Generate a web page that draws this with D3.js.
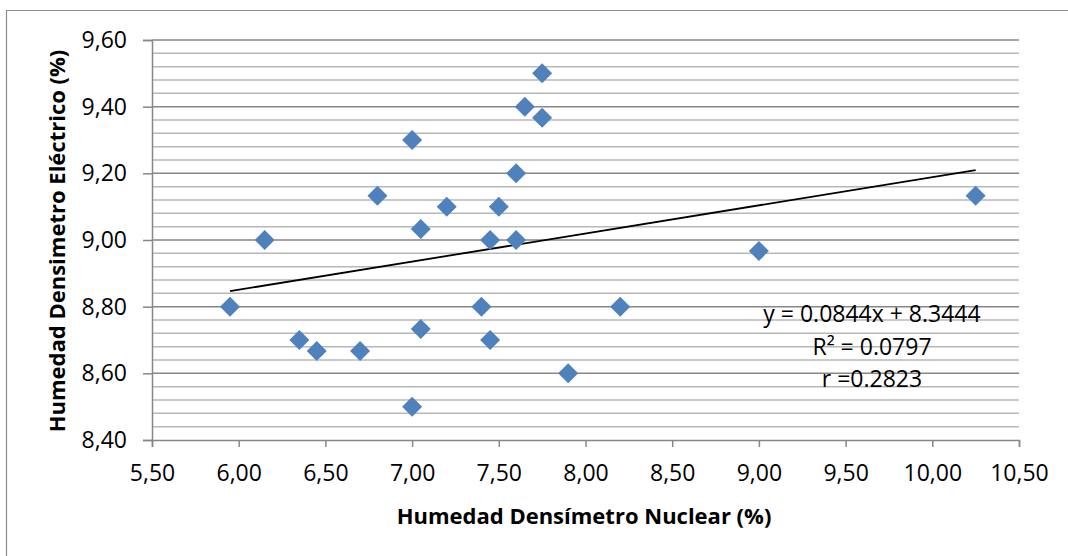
<!DOCTYPE html>
<html>
<head>
<meta charset="utf-8">
<script src="https://cdn.jsdelivr.net/npm/d3@7"></script>
<style>
  html, body { margin: 0; padding: 0; background: #fff; }
  svg { display: block; }
  text { font-family: "Open Sans", "DejaVu Sans", sans-serif; fill: #000; }
</style>
</head>
<body>
<svg id="chart" width="1068" height="556"></svg>
<script>
// ---- data ----
const nuclear = [5.95, 6.15, 6.35, 6.45, 6.70, 6.80, 7.00, 7.00, 7.05, 7.05, 7.20, 7.40,
                 7.45, 7.45, 7.50, 7.60, 7.60, 7.65, 7.75, 7.75, 7.90, 8.20, 9.00, 10.25];
const electrico = [8.80, 9.00, 8.70, 8.667, 8.667, 9.133, 9.30, 8.50, 9.033, 8.733, 9.10, 8.80,
                   9.00, 8.70, 9.10, 9.20, 9.00, 9.40, 9.50, 9.367, 8.60, 8.80, 8.967, 9.133];
const xTicks = [5.5, 6.0, 6.5, 7.0, 7.5, 8.0, 8.5, 9.0, 9.5, 10.0, 10.5];
const yTicks = [8.4, 8.6, 8.8, 9.0, 9.2, 9.4, 9.6];
const yMinorTicks = d3.range(0, 31).map(i => 8.4 + i * 0.04);
const trendSlope = 0.0844;
const trendIntercept = 8.3444;
const equationLines = ["y = 0.0844x + 8.3444", "R² = 0.0797", "r =0.2823"];
const xTitle = "Humedad Densímetro Nuclear (%)";
const yTitle = "Humedad Densimetro Eléctrico (%)";

// ---- layout ----
const svg = d3.select("#chart");
const plot = { left: 152, right: 1019, top: 40, bottom: 440 };
const x = d3.scaleLinear().domain([5.5, 10.5]).range([plot.left, plot.right]);
const y = d3.scaleLinear().domain([8.4, 9.6]).range([plot.bottom, plot.top]);
const fmt = v => d3.format(".2f")(v).replace(".", ",");

// outer chart border (only top & left are visible in the crop)
svg.append("path")
  .attr("d", `M6.5,600 V10.5 H1100`)
  .attr("fill", "none").attr("stroke", "#8c8c8c").attr("stroke-width", 1.2);

// minor gridlines
svg.append("g").selectAll("line")
  .data(yMinorTicks.filter(v => Math.abs(Math.round(v / 0.2) * 0.2 - v) > 1e-6))
  .join("line")
  .attr("x1", plot.left).attr("x2", plot.right)
  .attr("y1", d => y(d)).attr("y2", d => y(d))
  .attr("stroke", "#b8b8b8").attr("stroke-width", 1.5);

// major gridlines
svg.append("g").selectAll("line")
  .data(yTicks.slice(1))
  .join("line")
  .attr("x1", plot.left).attr("x2", plot.right)
  .attr("y1", d => y(d)).attr("y2", d => y(d))
  .attr("stroke", "#878787").attr("stroke-width", 1.5);

// y axis
const yAxis = d3.axisLeft(y).tickValues(yTicks).tickFormat(fmt).tickSize(9).tickPadding(16);
const gy = svg.append("g").attr("transform", `translate(${plot.left},0)`).call(yAxis);
gy.select(".domain").attr("stroke", "#878787").attr("stroke-width", 1.5);
gy.selectAll(".tick line").attr("stroke", "#878787").attr("stroke-width", 1.5);
gy.selectAll(".tick text").attr("font-size", 23).attr("font-family", "Open Sans").attr("fill", "#000");

// x axis
const xAxis = d3.axisBottom(x).tickValues(xTicks).tickFormat(fmt).tickSize(7).tickPadding(18);
const gx = svg.append("g").attr("transform", `translate(0,${plot.bottom})`).call(xAxis);
gx.select(".domain").attr("stroke", "#878787").attr("stroke-width", 1.5);
gx.selectAll(".tick line").attr("stroke", "#878787").attr("stroke-width", 1.5);
gx.selectAll(".tick text").attr("font-size", 23).attr("font-family", "Open Sans").attr("fill", "#000");

// trend line
const tx = d3.extent(nuclear);
svg.append("line")
  .attr("x1", x(tx[0])).attr("y1", y(trendSlope * tx[0] + trendIntercept))
  .attr("x2", x(tx[1])).attr("y2", y(trendSlope * tx[1] + trendIntercept))
  .attr("stroke", "#000").attr("stroke-width", 1.8);

// points
const pts = nuclear.map((v, i) => ({ x: v, y: electrico[i] }));
svg.append("g").selectAll("path")
  .data(pts)
  .join("path")
  .attr("d", d3.symbol(d3.symbolSquare, 200))
  .attr("transform", d => `translate(${x(d.x)},${y(d.y)}) rotate(45)`)
  .attr("fill", "#4f81bd");

// equation text
svg.append("g").selectAll("text")
  .data(equationLines)
  .join("text")
  .attr("x", 872).attr("y", (d, i) => 322 + i * 32.5)
  .attr("text-anchor", "middle")
  .attr("font-size", 23)
  .text(d => d);

// axis titles
svg.append("text")
  .attr("x", 584).attr("y", 524)
  .attr("text-anchor", "middle")
  .attr("font-size", 22).attr("font-weight", "bold")
  .text(xTitle);

svg.append("text")
  .attr("transform", `translate(65,241) rotate(-90)`)
  .attr("text-anchor", "middle")
  .attr("font-size", 22).attr("font-weight", "bold")
  .text(yTitle);
</script>
</body>
</html>
